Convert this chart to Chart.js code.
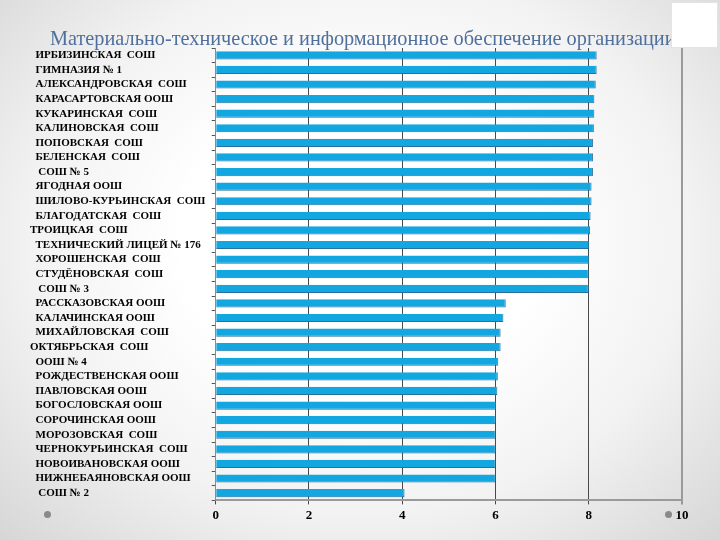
<!DOCTYPE html>
<html>
<head>
<meta charset="utf-8">
<script src="https://cdn.jsdelivr.net/npm/chart.js@4/dist/chart.umd.min.js"></script>
<style>
  html, body { margin: 0; padding: 0; }
  body {
    width: 720px; height: 540px; overflow: hidden; position: relative;
    background: radial-gradient(ellipse at 50% 45%, #ffffff 35%, #f2f2f2 65%, #d6d6d6 100%);
  }
  #wrap { position: absolute; left: 0; top: 0; width: 720px; height: 540px; }
  #title {
    position: absolute; left: 50px; top: 27px; white-space: nowrap;
    font-family: "Liberation Serif", serif; font-size: 20.3px; color: #4f6f9c;
  }
  .dot { position: absolute; width: 7px; height: 7px; border-radius: 50%; background: #8a8a8a; }
  #logo {
    position: absolute; left: 671px; top: 2px; width: 45px; height: 44px;
    background: #fff; border: 1px solid #e4e4e4;
  }
</style>
</head>
<body>
<div id="wrap"><canvas id="chart" width="720" height="540"></canvas></div>
<div id="title">Материально-техническое и информационное обеспечение организации</div>
<div id="logo"></div>
<div class="dot" style="left:44px; top:511px;"></div>
<div class="dot" style="left:665px; top:511px;"></div>
<script>
    // Schools (top to bottom) and their scores
    const schools = [
        '  ИРБИЗИНСКАЯ  СОШ', '  ГИМНАЗИЯ № 1', '  АЛЕКСАНДРОВСКАЯ  СОШ', '  КАРАСАРТОВСКАЯ ООШ',
        '  КУКАРИНСКАЯ  СОШ', '  КАЛИНОВСКАЯ  СОШ', '  ПОПОВСКАЯ  СОШ', '  БЕЛЕНСКАЯ  СОШ',
        '   СОШ № 5', '  ЯГОДНАЯ ООШ', '  ШИЛОВО-КУРЬИНСКАЯ  СОШ', '  БЛАГОДАТСКАЯ  СОШ',
        'ТРОИЦКАЯ  СОШ', '  ТЕХНИЧЕСКИЙ ЛИЦЕЙ № 176', '  ХОРОШЕНСКАЯ  СОШ', '  СТУДЁНОВСКАЯ  СОШ',
        '   СОШ № 3', '  РАССКАЗОВСКАЯ ООШ', '  КАЛАЧИНСКАЯ ООШ', '  МИХАЙЛОВСКАЯ  СОШ',
        'ОКТЯБРЬСКАЯ  СОШ', '  ООШ № 4', '  РОЖДЕСТВЕНСКАЯ ООШ', '  ПАВЛОВСКАЯ ООШ',
        '  БОГОСЛОВСКАЯ ООШ', '  СОРОЧИНСКАЯ ООШ', '  МОРОЗОВСКАЯ  СОШ', '  ЧЕРНОКУРЬИНСКАЯ  СОШ',
        '  НОВОИВАНОВСКАЯ ООШ', '  НИЖНЕБАЯНОВСКАЯ ООШ', '   СОШ № 2'
    ];
    const scores = [
        8.17, 8.17, 8.15, 8.12, 8.12, 8.11, 8.09, 8.09, 8.09, 8.06,
        8.06, 8.04, 8.03, 8.01, 8.01, 8.0, 8.0, 6.22, 6.17, 6.11,
        6.11, 6.06, 6.05, 6.04, 6.01, 6.0, 6.0, 6.0, 6.0, 6.0,
        4.05
    ];
    const xTicks = [0, 2, 4, 6, 8, 10];

    const ctx = document.getElementById('chart').getContext('2d');
    new Chart(ctx, {
        type: 'bar',
        data: {
            labels: schools,
            datasets: [{
                data: scores,
                backgroundColor: '#12a7e1',
                borderColor: '#2b6f9a',
                borderWidth: { top: 0, left: 0, right: 1, bottom: 1 },
                borderSkipped: false,
                categoryPercentage: 1,
                barPercentage: 0.56
            }]
        },
        options: {
            indexAxis: 'y',
            responsive: false,
            animation: false,
            layout: { padding: { left: 30, right: 38, top: 48, bottom: 14 } },
            plugins: { legend: { display: false }, tooltip: { enabled: false } },
            scales: {
                x: {
                    min: 0,
                    max: 10,
                    afterBuildTicks: scale => { scale.ticks = xTicks.map(v => ({ value: v })); },
                    ticks: {
                        color: '#000',
                        padding: 3,
                        font: { family: 'Liberation Serif', size: 13, weight: 'bold' }
                    },
                    grid: {
                        color: c => c.tick && c.tick.value === 10 ? '#9a9a9a' : '#4a4a4a',
                        lineWidth: c => c.tick && c.tick.value === 10 ? 2 : 1,
                        tickLength: 4
                    },
                    border: { color: '#9a9a9a', width: 2 }
                },
                y: {
                    afterFit: scale => { scale.width = 185.7; },
                    ticks: {
                        color: '#000',
                        crossAlign: 'far',
                        autoSkip: false,
                        font: { family: 'Liberation Serif', size: 11, weight: 'bold' }
                    },
                    grid: { drawOnChartArea: false, color: '#555', tickLength: 4 },
                    border: { color: '#8a8a8a', width: 1 }
                }
            }
        }
    });
</script>
</body>
</html>
